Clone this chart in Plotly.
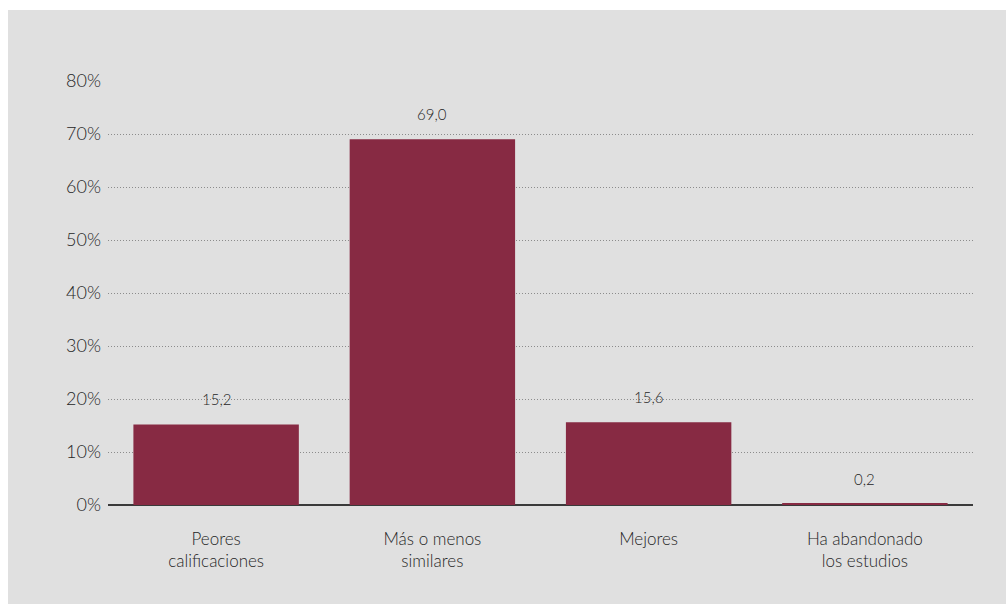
import plotly.graph_objects as go

categories = ["Peores<br>calificaciones", "Más o menos<br>similares", "Mejores", "Ha abandonado<br>los estudios"]
values = [15.2, 69.0, 15.6, 0.2]
value_labels = ["15,2", "69,0", "15,6", "0,2"]
tick_vals = [0, 10, 20, 30, 40, 50, 60, 70, 80]
tick_text = ["0%", "10%", "20%", "30%", "40%", "50%", "60%", "70%", "80%"]

BAR = "#872a43"
BG = "#e0e0e0"
TXT = "#262626"
FONT = "Lato"

fig = go.Figure()
fig.add_trace(go.Bar(x=categories, y=values, marker=dict(color=BAR, line=dict(width=0)),
                     hoverinfo="skip"))

for c, v, t in zip(categories, values, value_labels):
    fig.add_annotation(x=c, y=v, text=t, showarrow=False, yanchor="bottom", yshift=14,
                       font=dict(family=FONT, size=15, color=TXT, weight=300))

# body margin removed below, so figure coordinates == screen coordinates
W, H = 1006, 604
L, R, T, B = 108, 973, 81, 505
pw, ph = R - L, B - T
# white frame strips at top and left
fig.add_shape(type="rect", xref="paper", yref="paper", layer="below",
              x0=(0 - L) / pw, x1=(W + 20 - L) / pw,
              y0=(B - 10) / ph, y1=(B + 20) / ph,
              fillcolor="white", line=dict(width=0))
fig.add_shape(type="rect", xref="paper", yref="paper", layer="below",
              x0=(-20 - L) / pw, x1=(8 - L) / pw,
              y0=(B - (H + 20)) / ph, y1=(B + 20) / ph,
              fillcolor="white", line=dict(width=0))

fig.update_layout(
    width=W, height=H,
    margin=dict(l=L, r=W - R, t=T, b=H - B),
    paper_bgcolor=BG, plot_bgcolor=BG,
    showlegend=False, bargap=0.235,
    font=dict(family=FONT, size=17, color=TXT, weight=300),
    xaxis=dict(showgrid=False, ticks="", tickfont=dict(size=17, color=TXT, weight=300),
               showline=False, zeroline=False, ticklabelstandoff=22),
    yaxis=dict(range=[0, 80], tickvals=tick_vals, ticktext=tick_text,
               showgrid=True, gridcolor="#8c8c8c", griddash="1px,2px", gridwidth=1,
               zeroline=True, zerolinecolor="#3a3a3a", zerolinewidth=2,
               showline=False, ticks="", ticklabelstandoff=6,
               tickfont=dict(size=18, color=TXT, weight=300)),
)

fig.write_html("out.html", config={"displayModeBar": False},
               post_script="document.body.style.margin='0';document.body.style.overflow='hidden';")
